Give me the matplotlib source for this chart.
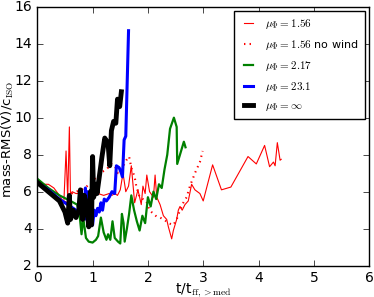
import matplotlib
matplotlib.use("Agg")
import matplotlib.pyplot as plt

plt.style.use("classic")
plt.rcParams["mathtext.fontset"] = "cm"

# mu_phi = 1.56
t_red = [0, 0.1, 0.2, 0.3, 0.4, 0.48, 0.52, 0.55, 0.58, 0.6, 0.63, 0.7, 0.8, 0.9, 1.0,
         1.1, 1.2, 1.3, 1.35, 1.4, 1.45, 1.5, 1.55, 1.6, 1.65, 1.7, 1.76, 1.82, 1.88, 1.91,
         1.95, 1.98, 2.03, 2.1, 2.13, 2.16, 2.22, 2.28, 2.34, 2.37, 2.43, 2.46, 2.52, 2.55,
         2.58, 2.62, 2.67, 2.73, 2.79, 2.85, 2.94, 3.0, 3.17, 3.33, 3.5, 3.81, 3.96, 4.11,
         4.2, 4.27, 4.3, 4.34, 4.39, 4.41]
v_red = [6.5, 6.4, 6.4, 6.2, 5.8, 5.4, 8.2, 5.6, 9.5, 5.8, 6.0, 5.9, 5.9, 5.8, 5.8,
         5.9, 5.8, 5.9, 5.8, 5.9, 5.8, 6.1, 7.0, 6.0, 6.3, 7.4, 5.4, 6.1, 5.3, 6.3,
         5.9, 6.9, 6.0, 5.7, 6.9, 5.7, 5.3, 4.7, 4.5, 4.1, 3.45, 3.9, 4.5, 5.0,
         5.2, 5.0, 5.3, 5.5, 6.4, 6.1, 5.9, 5.5, 7.45, 6.1, 6.25, 7.9, 7.5, 8.5,
         7.35, 7.6, 7.4, 8.65, 7.7, 7.75]

# mu_phi = 1.56 no wind
t_nw = [0, 0.1, 0.2, 0.3, 0.4, 0.5, 0.55, 0.62, 0.7, 0.8, 0.9, 1.01, 1.13, 1.25, 1.34,
        1.4, 1.46, 1.52, 1.61, 1.66, 1.7, 1.76, 1.79, 1.85, 1.91, 1.97, 2.03, 2.1, 2.16,
        2.22, 2.31, 2.37, 2.46, 2.52, 2.58, 2.64, 2.7, 2.76, 2.85, 2.94, 2.99]
v_nw = [6.6, 6.3, 6.1, 5.8, 5.6, 5.3, 5.7, 5.9, 6.0, 6.1, 6.3, 6.6, 7.0, 7.2, 7.5,
        7.4, 7.0, 7.2, 7.7, 7.9, 7.3, 6.8, 6.3, 5.7, 5.6, 5.5, 5.0, 4.8, 4.65,
        4.6, 4.45, 4.3, 4.2, 4.5, 5.0, 5.4, 5.7, 6.3, 7.0, 7.6, 8.2]

# mu_phi = 2.17
t_grn = [0, 0.2, 0.4, 0.6, 0.72, 0.76, 0.8, 0.83, 0.88, 0.93, 1.0, 1.06, 1.1, 1.15, 1.2,
         1.25, 1.28, 1.32, 1.36, 1.4, 1.46, 1.5, 1.53, 1.56, 1.58, 1.62, 1.66, 1.7, 1.75,
         1.8, 1.85, 1.9, 1.95, 2.0, 2.05, 2.1, 2.15, 2.2, 2.25, 2.3, 2.35, 2.4, 2.47,
         2.52, 2.53, 2.58, 2.65, 2.68]
v_grn = [6.7, 6.2, 5.8, 5.5, 5.3, 4.9, 3.7, 4.6, 3.5, 3.3, 3.25, 3.4, 3.6, 4.6, 3.8,
         3.4, 3.7, 3.4, 4.4, 3.5, 3.3, 3.2, 4.8, 4.3, 3.3, 4.0, 4.8, 5.8, 5.0,
         4.4, 3.9, 4.7, 4.3, 5.7, 5.2, 6.0, 5.6, 6.4, 6.2, 7.2, 8.0, 9.4, 10.0,
         9.5, 7.5, 8.0, 8.7, 8.4]

# mu_phi = 23.1
t_blu = [0, 0.2, 0.4, 0.55, 0.7, 0.8, 0.85, 0.87, 0.89, 0.91, 0.93, 0.96, 0.98, 1.0,
         1.03, 1.06, 1.09, 1.12, 1.15, 1.18, 1.21, 1.25, 1.3, 1.35, 1.4, 1.43, 1.48,
         1.52, 1.54, 1.57, 1.6, 1.65]
v_blu = [6.5, 6.1, 5.6, 5.3, 5.0, 4.8, 4.6, 6.2, 4.5, 6.0, 4.8, 5.6, 4.3, 4.2,
         5.0, 4.7, 5.1, 4.9, 5.4, 5.0, 5.6, 5.5, 5.7, 6.0, 5.9, 7.4, 7.3,
         7.0, 6.8, 8.8, 9.0, 14.7]

# mu_phi = infinity
t_blk = [0, 0.2, 0.4, 0.5, 0.55, 0.58, 0.6, 0.65, 0.7, 0.75, 0.78, 0.82, 0.85, 0.9,
         0.93, 0.96, 0.98, 1.0, 1.02, 1.06, 1.08, 1.13, 1.17, 1.22, 1.28, 1.31, 1.34,
         1.38, 1.42, 1.45, 1.49, 1.52]
v_blk = [6.5, 6.0, 5.5, 4.9, 4.3, 5.8, 4.5, 5.0, 4.6, 5.0, 6.1, 4.5, 5.8, 5.0,
         4.1, 6.0, 4.2, 7.9, 5.7, 6.4, 5.9, 7.0, 7.9, 8.9, 8.6, 7.4, 9.3,
         9.8, 9.7, 11.0, 10.6, 11.4]

fig = plt.figure(figsize=(3.74, 2.97), dpi=100, facecolor="white")
ax = fig.add_axes([0.0997, 0.1054, 0.8873, 0.8722])

ax.plot(t_red, v_red, color="red", lw=0.8, label=r"$\mu_\Phi=1.56$")
ax.plot(t_nw, v_nw, color="red", lw=1.5, ls=":", label=r"$\mu_\Phi=1.56$ no wind")
ax.plot(t_grn, v_grn, color="green", lw=1.6, label=r"$\mu_\Phi=2.17$")
ax.plot(t_blu, v_blu, color="blue", lw=2.2, label=r"$\mu_\Phi=23.1$")
ax.plot(t_blk, v_blk, color="black", lw=3.5, label=r"$\mu_\Phi=\infty$")

ax.set_xlim(0, 6)
ax.set_ylim(2, 16)
ax.set_xticks(range(0, 7))
ax.set_yticks(range(2, 17, 2))
ax.tick_params(labelsize=10)
ax.set_xlabel(r"t/t$_{\rm ff,>med}$", fontsize=10, va="center")
ax.set_ylabel(r"mass-RMS(V)/c$_{\rm ISO}$", fontsize=9.5, va="center")
ax.xaxis.set_label_coords(0.5, -0.094)
ax.yaxis.set_label_coords(-0.09, 0.49)

leg = ax.legend(loc="upper right", fontsize=8, frameon=True, fancybox=False,
                handlelength=1.4, handletextpad=0.8, borderpad=0.55,
                labelspacing=0.62, borderaxespad=0.4)
leg.get_frame().set_edgecolor("black")

fig.savefig("out.png", dpi=100, facecolor="white")
